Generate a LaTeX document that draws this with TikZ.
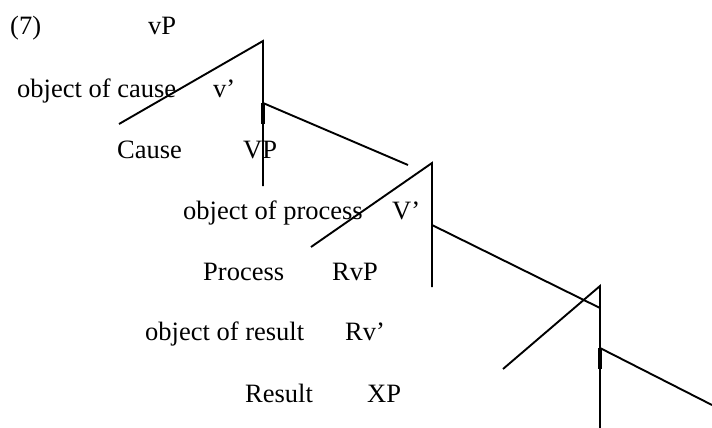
\documentclass[tikz,border=0pt]{standalone}
\usepackage{fontspec}
\setmainfont{Liberation Serif}
\begin{document}
\begin{tikzpicture}[x=1pt,y=-1pt,
  lbl/.style={anchor=base west,inner sep=0pt,font=\fontsize{26.5}{30}\selectfont},
  branch/.style={line width=1.9pt,black},
  thickseg/.style={line width=3.4pt,black}]
\useasboundingbox (0,0) rectangle (712,428);
% labels
\node[lbl] (n7) at (10,35) {(7)};
\node[lbl] (vP) at (148,35) {vP};
\node[lbl] (objc) at (17,97) {object of cause};
\node[lbl] (vbar) at (213,97) {v’};
\node[lbl] (cause) at (117,158) {Cause};
\node[lbl] (VP) at (243,158) {VP};
\node[lbl] (objp) at (183,219) {object of process};
\node[lbl] (Vbar) at (392,219) {V’};
\node[lbl] (proc) at (203,280) {Process};
\node[lbl] (RvP) at (332,280) {RvP};
\node[lbl] (objr) at (145,340) {object of result};
\node[lbl] (Rvbar) at (345,340) {Rv’};
\node[lbl] (res) at (245,402) {Result};
\node[lbl] (XP) at (367,402) {XP};
% tree 1
\coordinate (a1) at (263,41);
\coordinate (l1) at (119,124);
\coordinate (b1) at (263,186);
\coordinate (m1) at (263,103);
\coordinate (k1) at (263,124);
\coordinate (r1) at (408,165);
\draw[branch] (l1) -- (a1) -- (b1);
\draw[branch] (m1) -- (r1);
\draw[thickseg] (m1) -- (k1);
% tree 2
\coordinate (a2) at (432,163);
\coordinate (l2) at (311,247);
\coordinate (b2) at (432,287);
\coordinate (m2) at (432,225);
\coordinate (r2) at (600,308);
\draw[branch] (l2) -- (a2) -- (b2);
\draw[branch] (m2) -- (r2);
% tree 3
\coordinate (a3) at (600,286);
\coordinate (l3) at (503,369);
\coordinate (b3) at (600,428);
\coordinate (m3) at (600,348);
\coordinate (k3) at (600,369);
\coordinate (r3) at (712,405);
\draw[branch] (l3) -- (a3) -- (b3);
\draw[branch] (m3) -- (r3);
\draw[thickseg] (m3) -- (k3);
\end{tikzpicture}
\end{document}
